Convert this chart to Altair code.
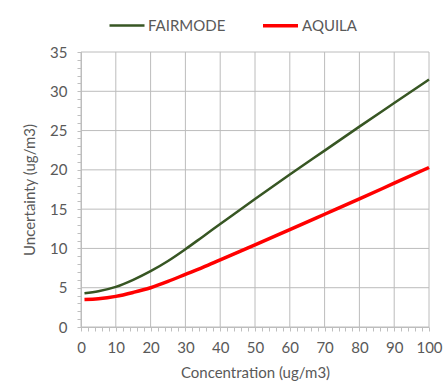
import altair as alt
import pandas as pd

concentration = [1, 5, 10, 15, 20, 25, 30, 35, 40, 50, 60, 70, 80, 90, 100]
fairmode = [4.3, 4.55, 5.1, 6.0, 7.1, 8.4, 9.9, 11.5, 13.1, 16.3, 19.4, 22.45, 25.5, 28.5, 31.5]
aquila = [3.5, 3.6, 3.9, 4.4, 5.0, 5.8, 6.7, 7.6, 8.55, 10.45, 12.4, 14.35, 16.3, 18.3, 20.3]
series_names = ["FAIRMODE", "AQUILA"]
series_colors = ["#375623", "#ff0000"]
x_ticks = list(range(0, 101, 2))
y_ticks = list(range(0, 36, 1))
x_grid = list(range(0, 101, 10))
y_grid = list(range(0, 36, 5))

rows = []
for c, f, a in zip(concentration, fairmode, aquila):
    rows.append({"conc": c, "value": f, "series": "FAIRMODE"})
    rows.append({"conc": c, "value": a, "series": "AQUILA"})
df = pd.DataFrame(rows)

FONT = "Lato"
TXT = "#595959"
GRID = "#bcbcbc"
AXC = "#bfbfbf"

x_axis = alt.Axis(
    values=x_ticks,
    labelExpr="datum.value % 10 === 0 ? datum.label : ''",
    grid=False,
    title="Concentration (ug/m3)",
    labelFont=FONT, titleFont=FONT, labelFontSize=15, titleFontSize=15,
    labelColor=TXT, titleColor=TXT, titleFontWeight="normal",
    tickSize=4, tickColor=AXC, domainColor=AXC,
    labelPadding=9, titlePadding=10, labelOverlap=False, labelFlush=False,
)
y_axis = alt.Axis(
    values=y_ticks,
    labelExpr="datum.value % 5 === 0 ? datum.label : ''",
    grid=False,
    title="Uncertainty (ug/m3)",
    labelFont=FONT, titleFont=FONT, labelFontSize=15, titleFontSize=15,
    labelColor=TXT, titleColor=TXT, titleFontWeight="normal",
    tickSize=4, tickColor=AXC, domainColor=AXC,
    labelPadding=10, titlePadding=12, labelOverlap=False, labelFlush=False,
)
x_scale = alt.Scale(domain=[0, 100], nice=False)
y_scale = alt.Scale(domain=[0, 35], nice=False)

vgrid = alt.Chart(pd.DataFrame({"gx": x_grid})).mark_rule(
    color=GRID, strokeWidth=1
).encode(
    x=alt.X("gx:Q", scale=x_scale, axis=x_axis),
)

hgrid = alt.Chart(pd.DataFrame({"gy": y_grid})).mark_rule(
    color=GRID, strokeWidth=1
).encode(
    y=alt.Y("gy:Q", scale=y_scale, axis=y_axis),
)

lines = alt.Chart(df).mark_line(interpolate="monotone").encode(
    x=alt.X("conc:Q", scale=x_scale, axis=x_axis),
    y=alt.Y("value:Q", scale=y_scale, axis=y_axis),
    color=alt.Color(
        "series:N",
        scale=alt.Scale(domain=series_names, range=series_colors),
        legend=alt.Legend(
            title=None, orient="none", direction="horizontal",
            legendX=27, legendY=-46,
            symbolType="stroke", symbolSize=1225, symbolStrokeWidth=3,
            labelFont=FONT, labelFontSize=15, labelColor=TXT,
            labelOffset=2, columnPadding=30,
        ),
    ),
    strokeWidth=alt.StrokeWidth(
        "series:N",
        scale=alt.Scale(domain=series_names, range=[2.5, 3.5]),
        legend=None,
    ),
)

chart = alt.layer(vgrid, hgrid, lines).properties(
    width=348, height=275,
    autosize="none",
    padding={"left": 81, "top": 52, "right": 18, "bottom": 63},
).configure_view(stroke=None)

chart.save("out.html", embed_options={"renderer": "svg", "actions": False})
